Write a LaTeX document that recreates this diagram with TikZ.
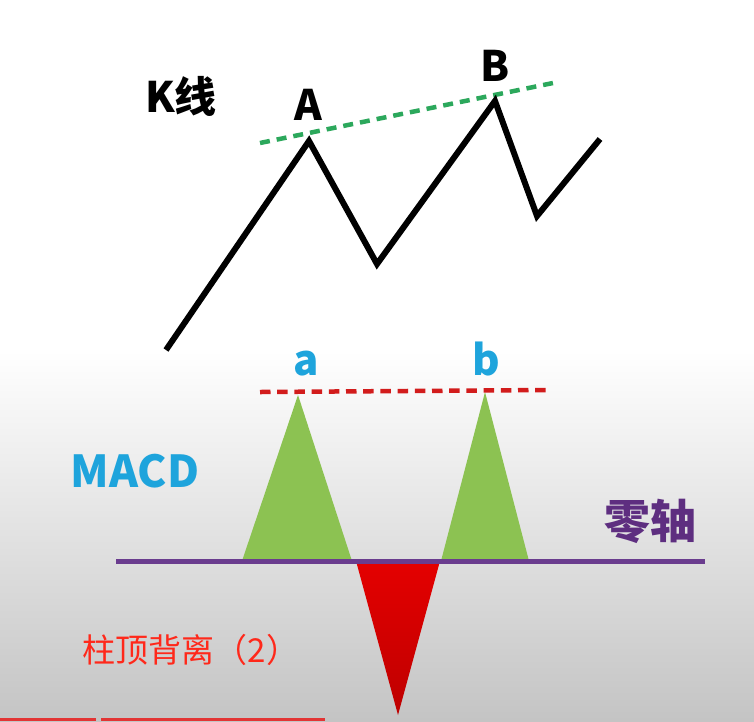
\documentclass[tikz,border=0pt]{standalone}
\usepackage{fontspec}
\setmainfont{Noto Sans CJK SC}
\usetikzlibrary{positioning}
\definecolor{trendgreen}{RGB}{44,168,92}
\definecolor{leveldred}{RGB}{210,28,28}
\definecolor{axispurple}{RGB}{106,60,142}
\definecolor{labelpurple}{RGB}{94,46,128}
\definecolor{macdblue}{RGB}{30,164,220}
\definecolor{bargreen}{RGB}{140,194,82}
\definecolor{barredtop}{RGB}{228,0,0}
\definecolor{barredbot}{RGB}{190,0,0}
\definecolor{textred}{RGB}{255,40,26}
\definecolor{bggray}{RGB}{196,196,196}
\definecolor{progred}{RGB}{226,52,52}
\tikzset{
  kline/.style={line width=6pt, draw=black, line join=miter},
  trend/.style={line width=4.5pt, draw=trendgreen, dash pattern=on 10pt off 7pt},
  level/.style={line width=4.5pt, draw=leveldred, dash pattern=on 10.5pt off 6.7pt},
  zeroaxis/.style={line width=5pt, draw=axispurple},
  barup/.style={fill=bargreen},
  bardown/.style={top color=barredtop, bottom color=barredbot},
  peak/.style={font=\fontsize{42}{42}\selectfont\bfseries, inner sep=0pt, anchor=base}
}

\begin{document}
\begin{tikzpicture}[x=1pt, y=-1pt]
    % background
    \fill[white] (0,0) rectangle (754,721);
    \shade[top color=white, bottom color=bggray] (0,350) rectangle (754,721);
    \useasboundingbox (0,0) rectangle (754,721);

    % K line
    \coordinate (k0) at (166,350);
    \coordinate (kA) at (309,141);
    \coordinate (kv1) at (377,264);
    \coordinate (kB) at (495,101);
    \coordinate (kv2) at (537,216);
    \coordinate (kend) at (600,139);
    \coordinate (tA) at (260,143);
    \coordinate (tB) at (553,83);

    \draw[trend] (tA) -- (tB);
    \draw[kline] (k0) -- (kA) -- (kv1) -- (kB) -- (kv2) -- (kend);

    \node[peak] (klabel) at (181,112) {K线};
    \node[peak] (labA) at (308,120) {A};
    \node[peak] (labB) at (495,81) {B};

    % MACD bars
    \coordinate (z0) at (116,561.5);
    \coordinate (z1) at (705,561.5);
    \coordinate (pa) at (298,395);
    \coordinate (pb) at (485,392);
    \coordinate (ha) at (260,392);
    \coordinate (hb) at (552,390);

    \fill[barup] (pa) -- (352,561) -- (242,561) -- cycle;
    \fill[barup] (pb) -- (529,561) -- (441,561) -- cycle;
    \shade[bardown] (356,561) -- (440,561) -- (398,715) -- cycle;
    \draw[zeroaxis] (z0) -- (z1);
    \draw[level] (ha) -- (hb);

    \node[peak, text=macdblue] (laba) at (306,375) {a};
    \node[peak, text=macdblue] (labb) at (486,375) {b};
    \node[peak, text=macdblue, font=\fontsize{44}{44}\selectfont\bfseries] (macd) at (135,487) {MACD};
    \node[text=labelpurple, inner sep=0pt, font=\fontsize{46}{46}\selectfont\bfseries] (zero) at (650,521) {零轴};
    \node[text=textred, inner sep=0pt, font=\fontsize{33}{33}\selectfont] (note) at (191,650) {柱顶背离（2）};

    % progress strip
    \fill[progred] (0,718) rectangle (96,721);
    \fill[progred] (101,718) rectangle (325,721);
\end{tikzpicture}
\end{document}
